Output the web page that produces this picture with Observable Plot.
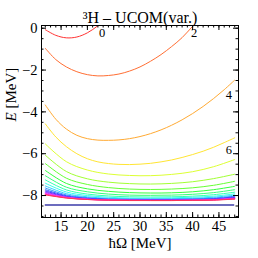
<!DOCTYPE html>
<html><head><meta charset="utf-8">
<script src="https://cdn.jsdelivr.net/npm/d3@7"></script>
<script src="https://cdn.jsdelivr.net/npm/@observablehq/plot@0.6"></script>
<style>html,body{margin:0;padding:0;background:#fff}svg{display:block}</style>
</head><body><div id="chart"></div>
<script>
// ---- data ----
const title = "³H – UCOM(var.)";
const xLabel = "ħΩ [MeV]";
const yLabel = "E [MeV]";

const hwFine = [12,14,16,18,20,22,24,26,28,30,32,34,36,38,40,42,44,46,48];
const hwCoarse = [12,16,20,24,28,32,36,40,44,48];

const nmaxLow = [0, 2, 4, 6];
const e0 = [-0.07,-0.34,-0.46,-0.42,-0.22,0.12,0.55];
const e2 = [-0.96,-1.50,-1.85,-2.08,-2.22,-2.28,-2.26,-2.19,-2.05,-1.85,-1.58,-1.26,-0.88,-0.45,0.09,0.60];
const e4 = [-3.67,-4.35,-4.82,-5.12,-5.28,-5.35,-5.36,-5.34,-5.28,-5.18,-5.04,-4.86,-4.64,-4.38,-4.08,-3.74,-3.36,-2.94,-2.48];
const e6 = [-4.57,-5.20,-5.66,-6.00,-6.24,-6.39,-6.47,-6.51,-6.52,-6.50,-6.46,-6.39,-6.30,-6.18,-6.04,-5.88,-5.69,-5.47,-5.24];

const nmaxHigh = [8,10,12,14,16,18,20,22,24,26,28,30,32,34,36,38,40];
const eHigh = [
  [-5.53,-6.38,-6.78,-6.97,-7.04,-7.05,-6.99,-6.86,-6.62,-6.28],
  [-6.07,-6.85,-7.20,-7.36,-7.43,-7.45,-7.42,-7.34,-7.19,-6.98],
  [-6.47,-7.17,-7.47,-7.62,-7.69,-7.71,-7.69,-7.63,-7.51,-7.32],
  [-6.80,-7.42,-7.68,-7.80,-7.86,-7.88,-7.87,-7.82,-7.72,-7.56],
  [-7.05,-7.60,-7.82,-7.93,-7.98,-7.99,-7.98,-7.94,-7.86,-7.72],
  [-7.25,-7.73,-7.93,-8.02,-8.06,-8.07,-8.06,-8.03,-7.96,-7.84],
  [-7.41,-7.83,-8.00,-8.08,-8.12,-8.12,-8.11,-8.08,-8.03,-7.92],
  [-7.54,-7.91,-8.06,-8.13,-8.15,-8.16,-8.15,-8.13,-8.08,-7.98],
  [-7.64,-7.97,-8.10,-8.16,-8.18,-8.18,-8.18,-8.16,-8.12,-8.03],
  [-7.72,-8.01,-8.13,-8.18,-8.20,-8.20,-8.20,-8.18,-8.15,-8.06],
  [-7.78,-8.04,-8.15,-8.19,-8.21,-8.21,-8.21,-8.20,-8.17,-8.09],
  [-7.83,-8.06,-8.16,-8.20,-8.22,-8.22,-8.22,-8.21,-8.18,-8.11],
  [-7.87,-8.08,-8.17,-8.21,-8.22,-8.23,-8.23,-8.22,-8.19,-8.13],
  [-7.90,-8.09,-8.18,-8.21,-8.23,-8.23,-8.23,-8.22,-8.20,-8.14],
  [-7.93,-8.10,-8.18,-8.22,-8.23,-8.23,-8.23,-8.23,-8.21,-8.15],
  [-7.95,-8.11,-8.19,-8.22,-8.23,-8.24,-8.24,-8.23,-8.21,-8.16],
  [-7.97,-8.12,-8.19,-8.22,-8.24,-8.24,-8.24,-8.23,-8.22,-8.17]
];
const exactE = -8.45;

const labelText = ["0", "2", "4", "6"];
const labelHw = [22.8, 40.3, 46.9, 46.9];
const labelE = [-0.25, -0.25, -3.2, -5.8];

const xMajor = [15,20,25,30,35,40,45];
const xMinor = d3.range(12, 49, 1);
const yMajor = [0,-2,-4,-6,-8];
const yMinor = d3.range(0, -9.01, -0.5);

// ---- build rows ----
const rows = [];
[e0, e2, e4, e6].forEach((arr, i) => {
  hwFine.forEach((hw, j) => rows.push({hw, E: j < arr.length ? arr[j] : NaN, nmax: nmaxLow[i]}));
});
eHigh.forEach((arr, i) => {
  hwCoarse.forEach((hw, j) => rows.push({hw, E: arr[j], nmax: nmaxHigh[i]}));
});
const labels = labelText.map((t, i) => ({t, hw: labelHw[i], E: labelE[i]}));

const W = 258, H = 258, mL = 41, mR = 20, mT = 25, mB = 41;
const fw = W - mL - mR, fh = H - mT - mB;
const maj = 5, mnr = 2.5;

const chart = Plot.plot({
  width: W, height: H,
  marginLeft: mL, marginRight: mR, marginTop: mT, marginBottom: mB,
  style: {fontFamily: "'Liberation Serif', 'Times New Roman', serif", fontSize: "14px", background: "white", color: "black"},
  x: {domain: [11.28, 48.72], label: null},
  y: {domain: [-9.05, 0.13], label: null},
  color: {type: "linear", domain: [0, 40], interpolate: t => d3.hsl(t * 350, 1, 0.6).formatHex()},
  marks: [
    Plot.ruleY([exactE], {x1: hwFine[0], x2: hwFine[hwFine.length - 1], stroke: "#3b3ba8", strokeWidth: 1.5}),
    Plot.line(rows, {x: "hw", y: "E", z: "nmax", stroke: "nmax", strokeWidth: 1, curve: "catmull-rom", clip: true}),
    Plot.text(labels, {x: "hw", y: "E", text: "t", fontSize: 12.5}),
    // inward frame ticks
    Plot.tickX(xMinor, {x: d => d, insetTop: fh - mnr}),
    Plot.tickX(xMinor, {x: d => d, insetBottom: fh - mnr}),
    Plot.tickX(xMajor, {x: d => d, insetTop: fh - maj}),
    Plot.tickX(xMajor, {x: d => d, insetBottom: fh - maj}),
    Plot.tickY(yMinor, {y: d => d, insetRight: fw - mnr}),
    Plot.tickY(yMinor, {y: d => d, insetLeft: fw - mnr}),
    Plot.tickY(yMajor, {y: d => d, insetRight: fw - maj}),
    Plot.tickY(yMajor, {y: d => d, insetLeft: fw - maj}),
    Plot.axisX(xMajor, {tickSize: 0, tickPadding: 3, fontSize: 14.5}),
    Plot.axisY(yMajor, {tickSize: 0, tickPadding: 4, fontSize: 14.5, tickFormat: d => d === 0 ? "0" : "\u2212" + Math.abs(d)}),
    Plot.frame({stroke: "black", strokeWidth: 1}),
    Plot.text([title], {frameAnchor: "top", dy: -14, text: d => d, fontSize: 16}),
    Plot.text([xLabel], {frameAnchor: "bottom", dy: 30, text: d => d, fontSize: 15}),
    Plot.text([yLabel], {frameAnchor: "left", dx: -30, rotate: -90, text: d => d, fontSize: 15})
  ]
});

d3.select(chart).selectAll("text").filter(function () { return this.textContent === yLabel; })
  .each(function () {
    const t = d3.select(this);
    t.text(null);
    t.append("tspan").attr("font-style", "italic").text("E");
    t.append("tspan").text(" [MeV]");
  });

document.getElementById("chart").appendChild(chart);
</script>
</body></html>
